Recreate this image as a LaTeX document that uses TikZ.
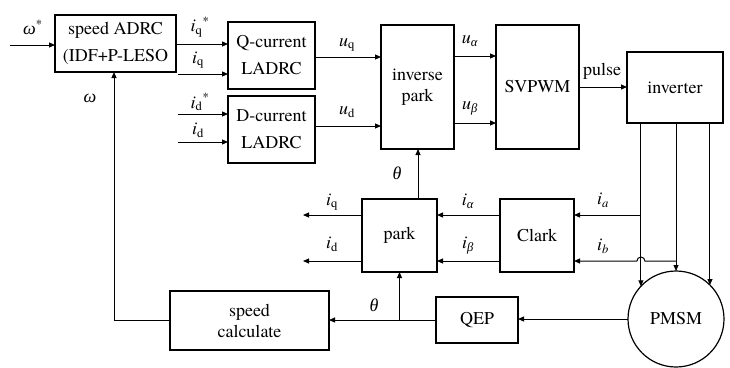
\documentclass[tikz,border=0pt]{standalone}
\usepackage{fontspec}
\setmainfont{TeX Gyre Termes}
\newfontfamily\grk{Liberation Serif}
\usetikzlibrary{arrows.meta}
\newcommand{\vlab}[2]{\textit{#1}\textsubscript{#2}}
\newcommand{\gk}[1]{{\grk\itshape #1}}
\begin{document}
\begin{tikzpicture}[x=1pt,y=1pt,yscale=-1,
  box/.style={draw,line width=1.4pt,inner sep=0pt,outer sep=0pt,align=center,font=\fontsize{18}{27}\selectfont},
  tbox/.style={box,font=\fontsize{18}{21}\selectfont},
  arr/.style={line width=1pt,-{Triangle[length=6pt,width=5pt]}},
  lab/.style={inner sep=0pt,font=\fontsize{18}{20}\selectfont}]
\useasboundingbox (0,0) rectangle (730,367);
% blocks
\node[box,minimum width=121pt,minimum height=57pt] (adrc) at (115.5,43.5) {speed ADRC\\(IDF+P-LESO};
\node[box,minimum width=87pt,minimum height=67pt] (qcur) at (271.5,55.5) {Q-current\\LADRC};
\node[box,minimum width=87pt,minimum height=67pt] (dcur) at (271.5,129.5) {D-current\\LADRC};
\node[tbox,minimum width=73pt,minimum height=124pt] (ipark) at (417.5,87) {inverse\\park};
\node[box,minimum width=83pt,minimum height=124pt] (svpwm) at (537.5,87) {SVPWM};
\node[box,minimum width=96pt,minimum height=71pt] (inv) at (675,87.5) {inverter};
\node[box,minimum width=74pt,minimum height=73pt] (clark) at (537,235.5) {Clark};
\node[box,minimum width=75pt,minimum height=73pt] (park) at (399.5,235.5) {park};
\node[box,minimum width=82pt,minimum height=46pt] (qep) at (477,320) {QEP};
\node[tbox,minimum width=159pt,minimum height=59pt] (spcalc) at (249.5,320.5) {speed\\calculate};
\node[box,line width=1.2pt,circle,minimum size=96pt] (pmsm) at (676,319) {PMSM};
% helper coordinates
\coordinate (w0) at (10,45);
\coordinate (a1) at (176,44);
\coordinate (a2) at (178,74);
\coordinate (a3) at (178,114);
\coordinate (a4) at (178,142);
\coordinate (b1) at (0,57);
\coordinate (b2) at (0,126);
\coordinate (c1) at (0,56);
\coordinate (c2) at (0,123);
\coordinate (d1) at (0,87);
\coordinate (e1) at (0,215);
\coordinate (e2) at (0,261);
\coordinate (f1) at (303,215);
\coordinate (f2) at (303,261);
\coordinate (g1) at (418,0);
\coordinate (m1) at (114,0);
% connectors
\draw[arr] (w0) -- (w0 -| adrc.west);
\draw[arr] (a1 -| adrc.east) -- (a1 -| qcur.west);
\draw[arr] (a2) -- (a2 -| qcur.west);
\draw[arr] (a3) -- (a3 -| dcur.west);
\draw[arr] (a4) -- (a4 -| dcur.west);
\draw[arr] (b1 -| qcur.east) -- (b1 -| ipark.west);
\draw[arr] (b2 -| dcur.east) -- (b2 -| ipark.west);
\draw[arr] (c1 -| ipark.east) -- (c1 -| svpwm.west);
\draw[arr] (c2 -| ipark.east) -- (c2 -| svpwm.west);
\draw[arr] (d1 -| svpwm.east) -- (d1 -| inv.west);
\draw[arr] (pmsm.137 |- inv.south) -- (pmsm.137);
\draw[arr] (pmsm.north |- inv.south) -- (pmsm.north);
\draw[arr] (pmsm.45 |- inv.south) -- (pmsm.45);
\draw[arr] (e1 -| pmsm.137) -- (e1 -| clark.east);
\draw[arr] (e2 -| pmsm.north) -- ([xshift=4pt]e2 -| pmsm.137) arc (0:-180:4) -- (e2 -| clark.east);
\draw[arr] (e1 -| clark.west) -- (e1 -| park.east);
\draw[arr] (e2 -| clark.west) -- (e2 -| park.east);
\draw[arr] (e1 -| park.west) -- (f1);
\draw[arr] (e2 -| park.west) -- (f2);
\draw[arr] (g1 |- park.north) -- (g1 |- ipark.south);
\draw[arr] (pmsm.west) -- (pmsm.west -| qep.east);
\draw[arr] (qep.west) -- (qep.west -| spcalc.east);
\draw[arr] (park.south |- qep.west) -- (park.south);
\draw[arr] (spcalc.west) -| (m1 |- adrc.south);
% labels
\node[lab] (lw0) at (33,27) {\gk{ω}\textsuperscript{*}};
\node[lab] (lw1) at (90,98) {\gk{ω}};
\node[lab] (l1) at (200,27) {\vlab{i}{q}\textsuperscript{*}};
\node[lab] (l2) at (198,60) {\vlab{i}{q}};
\node[lab] (l3) at (200,102) {\vlab{i}{d}\textsuperscript{*}};
\node[lab] (l4) at (198,130) {\vlab{i}{d}};
\node[lab] (l5) at (347,45) {\vlab{u}{q}};
\node[lab] (l6) at (347,112) {\vlab{u}{d}};
\node[lab] (l7) at (470,41) {\vlab{u}{\gk{α}}};
\node[lab] (l8) at (470,108) {\vlab{u}{\gk{β}}};
\node[lab] (l9) at (602,71) {pulse};
\node[lab] (l10) at (397,173) {\gk{θ}};
\node[lab] (l11) at (468,201) {\vlab{i}{\gk{α}}};
\node[lab] (l12) at (468,246) {\vlab{i}{\gk{β}}};
\node[lab] (l13) at (603,200) {\vlab{i}{\textit{a}}};
\node[lab] (l14) at (603,246) {\vlab{i}{\textit{b}}};
\node[lab] (l15) at (332,202) {\vlab{i}{q}};
\node[lab] (l16) at (332,244) {\vlab{i}{d}};
\node[lab] (l17) at (374,305) {\gk{θ}};
\end{tikzpicture}
\end{document}
